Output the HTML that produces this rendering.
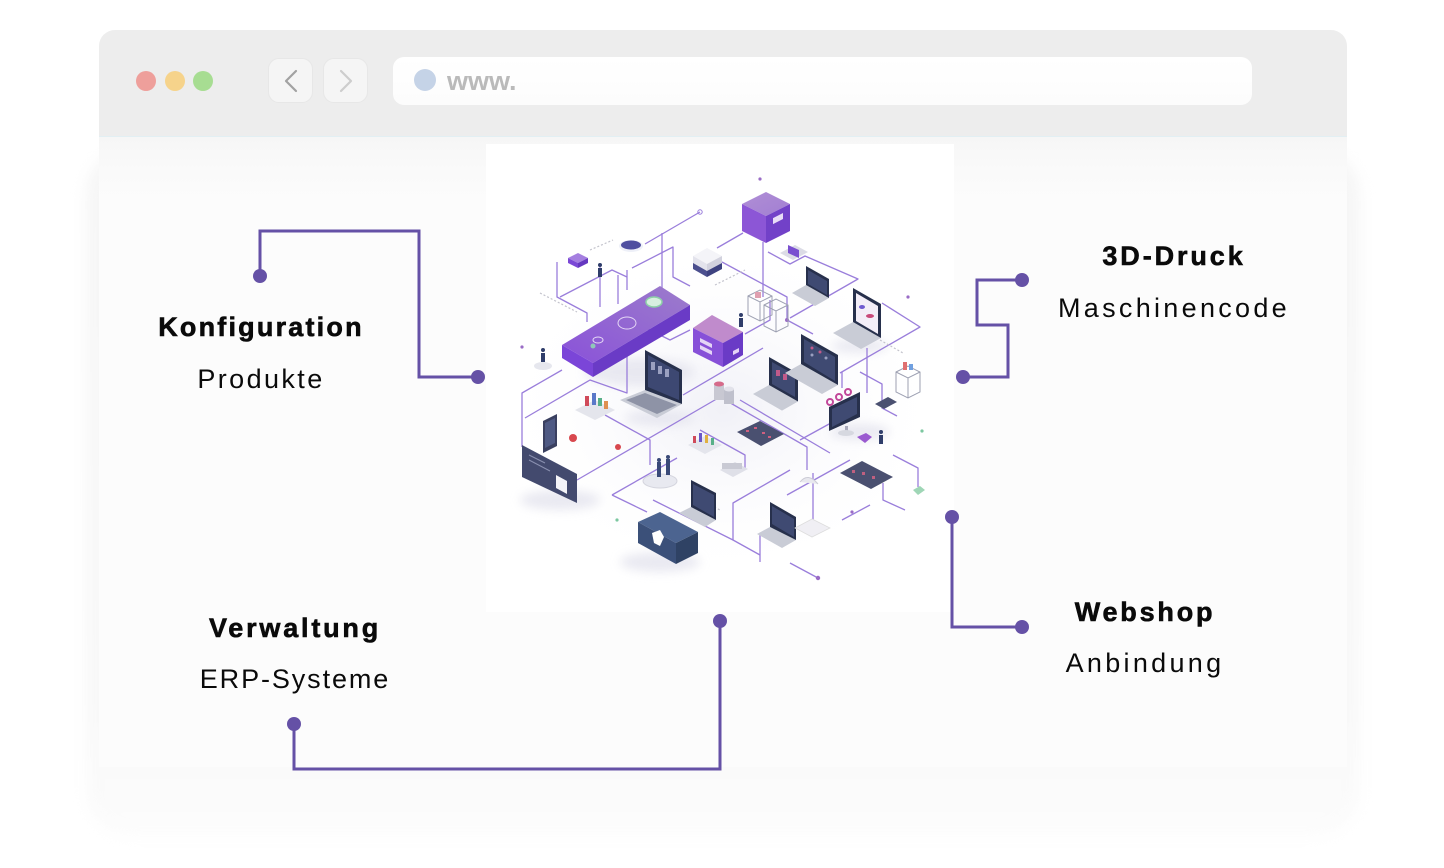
<!DOCTYPE html>
<html>
<head>
<meta charset="utf-8">
<style>
  html,body{margin:0;padding:0;background:#fff;}
  body{width:1444px;height:868px;position:relative;overflow:hidden;font-family:"Liberation Sans",sans-serif;}
  .abs{position:absolute;}
  #shadow{left:86px;top:150px;width:1274px;height:686px;border-radius:44px;background:linear-gradient(180deg,#f6f6f6 0%,#f8f8f8 80%,#fcfcfc 100%);filter:blur(7px);}
  #titlebar{left:99px;top:30px;width:1248px;height:106px;background:#ededed;border-radius:16px 16px 0 0;border-bottom:1px solid #e2eff3;}
  #content{left:99px;top:137px;width:1248px;height:630px;background:linear-gradient(180deg,#f6f6f6 0px,#fafafa 35px,#fcfcfc 65px,#fcfcfc 100%);}
  #illbg{left:486px;top:144px;width:468px;height:468px;background:#ffffff;}
  .tl{width:20px;height:20px;border-radius:50%;top:71px;}
  .nav{top:58px;width:45px;height:45px;background:#f5f5f5;border:1px solid #e7e7e7;border-radius:11px;box-sizing:border-box;}
  #addr{left:393px;top:57px;width:859px;height:48px;border-radius:11px;background:linear-gradient(180deg,#ffffff,#fcfcfc);}
  #www{left:447px;top:64px;font-weight:bold;font-size:27px;color:#bababa;line-height:34px;}
</style>
</head>
<body>
<div id="shadow" class="abs"></div>
<div id="titlebar" class="abs"></div>
<div id="content" class="abs"></div>
<div id="illbg" class="abs"></div>

<div class="abs tl" style="left:136px;background:#ee9f9b;"></div>
<div class="abs tl" style="left:165px;background:#f6d38b;"></div>
<div class="abs tl" style="left:193px;background:#a7dd92;"></div>

<div class="abs nav" style="left:268px;"></div>
<div class="abs nav" style="left:323px;"></div>
<svg class="abs" style="left:0;top:0" width="1444" height="868" viewBox="0 0 1444 868">
  <polyline points="296,71 286,81 296,91" fill="none" stroke="#a2a2a2" stroke-width="2.2" stroke-linecap="round" stroke-linejoin="round"/>
  <polyline points="341,71 351,81 341,91" fill="none" stroke="#cdcdcd" stroke-width="2.2" stroke-linecap="round" stroke-linejoin="round"/>
</svg>

<div id="addr" class="abs"></div>
<div class="abs" style="left:414px;top:69px;width:22px;height:22px;border-radius:50%;background:#c5d3e7;"></div>
<div id="www" class="abs">www.</div>

<!-- Illustration -->
<svg class="abs" style="left:0;top:0" width="1444" height="868" viewBox="0 0 1444 868">
  <defs>
    <radialGradient id="glow" cx="50%" cy="50%" r="50%">
      <stop offset="0" stop-color="#efeff6" stop-opacity="0.9"/>
      <stop offset="1" stop-color="#ffffff" stop-opacity="0"/>
    </radialGradient>
    <linearGradient id="slabTop" x1="0" y1="1" x2="1" y2="0">
      <stop offset="0" stop-color="#8a52d9"/>
      <stop offset="1" stop-color="#9c7ccb"/>
    </linearGradient>
    <linearGradient id="cubeTop" x1="0" y1="0" x2="1" y2="1">
      <stop offset="0" stop-color="#b08ed6"/>
      <stop offset="1" stop-color="#a27fd2"/>
    </linearGradient>
    <filter id="bl" x="-50%" y="-50%" width="200%" height="200%"><feGaussianBlur stdDeviation="5"/></filter>
  </defs>
  <ellipse cx="722" cy="410" rx="225" ry="170" fill="url(#glow)"/>

  <g fill="#e4e4ee" filter="url(#bl)" opacity="0.8">
    <ellipse cx="640" cy="372" rx="55" ry="14"/>
    <ellipse cx="660" cy="562" rx="40" ry="10"/>
    <ellipse cx="560" cy="500" rx="40" ry="10"/>
    <ellipse cx="660" cy="418" rx="35" ry="8"/>
    <ellipse cx="860" cy="432" rx="30" ry="8"/>
    <ellipse cx="860" cy="346" rx="28" ry="7"/>
  </g>

  <g fill="none" stroke="#9a7edb" stroke-width="1.3" stroke-linejoin="round">
    <path d="M700,212 L645,244"/>
    <path d="M632,268 L673,247 L673,277 L690,286"/>
    <path d="M662,233 L662,290"/>
    <path d="M627,270 L627,290"/>
    <path d="M557,262 L557,297 L587,313 L587,322"/>
    <path d="M560,297 L612,270 L627,277"/>
    <path d="M600,266 L600,307"/>
    <path d="M618,275 L618,304"/>
    <path d="M717,248 L743,233"/>
    <path d="M763,242 L763,297"/>
    <path d="M722,262 L787,297 L787,320 L813,334"/>
    <path d="M768,252 L790,264 L805,256 L858,279 L790,318"/>
    <path d="M882,303 L920,327 L840,373"/>
    <path d="M867,348 L867,393"/>
    <path d="M860,372 L882,384 L882,408 L897,416"/>
    <path d="M522,447 L522,393 L562,370"/>
    <path d="M525,418 L590,380 L627,393 L627,347"/>
    <path d="M577,480 L720,397 L807,447 L807,470"/>
    <path d="M605,415 L650,440 L650,465"/>
    <path d="M612,495 L677,458"/>
    <path d="M612,495 L647,512"/>
    <path d="M653,500 L733,540 L733,503 L790,470"/>
    <path d="M787,495 L850,460"/>
    <path d="M790,563 L818,578"/>
    <path d="M760,533 L760,562"/>
    <path d="M813,473 L813,520"/>
    <path d="M883,483 L883,500 L905,510"/>
    <path d="M893,455 L918,468 L918,487"/>
    <path d="M683,395 L763,348"/>
    <path d="M740,400 L830,453"/>
    <path d="M700,430 L745,455 L745,470"/>
    <path d="M800,440 L840,418"/>
    <path d="M842,372 L842,388"/>
    <path d="M690,330 L670,340 L640,325"/>
    <path d="M770,300 L770,320 L745,334"/>
    <path d="M842,520 L870,505"/>
    <path d="M733,540 L760,555"/>
  </g>
  <g fill="none" stroke="#c3c3cc" stroke-width="1.2" stroke-dasharray="2,2">
    <path d="M540,293 L577,312"/>
    <path d="M590,250 L613,240"/>
    <path d="M880,340 L903,353"/>
    <path d="M715,285 L745,270"/>
    <path d="M700,500 L720,510"/>
  </g>

  <g fill="#9a6cc6">
    <circle cx="760" cy="179" r="1.6"/><circle cx="908" cy="297" r="1.6"/><circle cx="522" cy="347" r="1.6"/>
    <circle cx="852" cy="512" r="1.6"/><circle cx="700" cy="212" r="2.2" fill="none" stroke="#9a7edb"/>
    <circle cx="818" cy="578" r="2.2"/><circle cx="787" cy="320" r="2"/>
  </g>
  <circle cx="617" cy="520" r="1.6" fill="#7cc7a0"/>
  <circle cx="922" cy="431" r="1.6" fill="#7cc7a0"/>

  <polygon points="742,204 766,192 790,204 766,216" fill="url(#cubeTop)"/>
  <polygon points="742,204 766,216 766,243 742,231" fill="#8c56d6"/>
  <polygon points="766,216 790,204 790,231 766,243" fill="#7241c8"/>
  <rect x="773" y="218" width="10" height="6" fill="#e8ddf6" transform="skewY(-27) translate(0,394)"/>

  <polygon points="568,258 578,253 588,258 578,263" fill="#a57fe0"/>
  <polygon points="568,258 578,263 578,268 568,263" fill="#7b48d6"/>
  <polygon points="578,263 588,258 588,263 578,268" fill="#6538c0"/>
  <ellipse cx="631" cy="246" rx="12" ry="6" fill="#eef0f8"/>
  <ellipse cx="631" cy="245" rx="10" ry="4.5" fill="#4f4fa0"/>

  <polygon points="693,256 707,248 722,256 707,264" fill="#f4f4f8"/>
  <polygon points="693,256 707,264 707,277 693,269" fill="#e3e3ec"/>
  <polygon points="707,264 722,256 722,269 707,277" fill="#d2d2de"/>
  <polygon points="693,263 707,271 707,277 693,269" fill="#4b4f8e"/>
  <polygon points="707,271 722,263 722,269 707,277" fill="#3e4280"/>

  <polygon points="780,253 795,245 808,252 793,260" fill="#dcdce6"/>
  <polygon points="788,245 799,250 799,258 788,253" fill="#7a4fd0"/>

  <g fill="none" stroke="#9da0b2" stroke-width="1">
    <polygon points="748,296 760,290 772,296 772,315 760,321 748,315"/>
    <path d="M748,296 L760,302 L772,296 M760,302 L760,321"/>
    <polygon points="764,305 776,299 788,305 788,326 776,332 764,326"/>
    <path d="M764,305 L776,311 L788,305 M776,311 L776,332"/>
    <polygon points="896,372 908,366 920,372 920,392 908,398 896,392"/>
    <path d="M896,372 L908,378 L920,372 M908,378 L908,398"/>
  </g>
  <rect x="755" y="292" width="6" height="6" fill="#e0a0b0"/>
  <rect x="903" y="362" width="4" height="8" fill="#e07070"/>
  <rect x="909" y="364" width="4" height="6" fill="#70a0e0"/>

  <polygon points="562,345 660,286 690,305 593,363" fill="url(#slabTop)"/>
  <polygon points="562,345 593,363 593,377 562,358" fill="#7b45d8"/>
  <polygon points="593,363 690,305 690,320 593,377" fill="#6a3bc6"/>
  <ellipse cx="654" cy="302" rx="8" ry="5" fill="#d8f0e0" stroke="#8ed0a8" stroke-width="1.5"/>
  <ellipse cx="627" cy="323" rx="9" ry="6" fill="none" stroke="#e5d8f5" stroke-width="1"/>
  <ellipse cx="598" cy="340" rx="5" ry="3" fill="none" stroke="#e5d8f5" stroke-width="1"/>
  <circle cx="593" cy="346" r="2.5" fill="#8fc8b8"/>

  <polygon points="693,328 712,315 743,332 723,343" fill="#c08bcc"/>
  <polygon points="693,328 723,343 723,367 693,352" fill="#8750d8"/>
  <polygon points="723,343 743,332 743,355 723,367" fill="#6a3bc6"/>
  <polygon points="700,338 712,344 712,348 700,342" fill="#e4d4f6"/>
  <polygon points="700,345 712,351 712,355 700,349" fill="#e4d4f6"/>
  <polygon points="733,351 739,348 739,352 733,355" fill="#e4d4f6"/>

  <rect x="714" y="384" width="10" height="16" fill="#c8c8d2"/>
  <ellipse cx="719" cy="384" rx="5" ry="2.5" fill="#d66a8a"/>
  <rect x="724" y="389" width="10" height="15" fill="#bfc0cc"/>
  <ellipse cx="729" cy="389" rx="5" ry="2.5" fill="#e2e2ea"/>
  <g fill="none" stroke="#c2489a" stroke-width="2">
    <circle cx="830" cy="402" r="3"/><circle cx="839" cy="397" r="3"/><circle cx="848" cy="392" r="3"/>
  </g>

  <g>
    <polygon points="645,390 682,404 657,418 620,400" fill="#c9ccd6"/>
    <polygon points="645,393 677,405 657,414 626,400" fill="#8e93a6"/>
    <polygon points="645,350 682,370 682,404 645,390" fill="#27304c"/>
    <polygon points="648,355 679,372 679,400 648,387" fill="#3d4872"/>
    <rect x="651" y="362" width="4" height="8" fill="#9aa0c0"/><rect x="658" y="366" width="4" height="8" fill="#9aa0c0"/><rect x="665" y="369" width="4" height="8" fill="#9aa0c0"/>
    <polygon points="769,385 798,401.5 782,410.6 753,394" fill="#c9ccd6"/>
    <polygon points="769,357 798,373.5 798,401.5 769,385" fill="#27304c"/>
    <polygon points="772,362 795,375 795,397 772,384" fill="#3f4a72"/>
    <rect x="776" y="370" width="4" height="6" fill="#c05a8a"/><rect x="783" y="374" width="4" height="6" fill="#c05a8a"/>
    <polygon points="801,364 838,385 822,394 785,373" fill="#c9ccd6"/>
    <polygon points="801,334 838,355 838,385 801,364" fill="#27304c"/>
    <polygon points="804,339 835,357 835,381 804,362" fill="#3f4a72"/>
    <circle cx="812" cy="348" r="1.5" fill="#c05a8a"/><circle cx="820" cy="352" r="1.5" fill="#c05a8a"/><circle cx="812" cy="355" r="1.5" fill="#9aa0c0"/><circle cx="826" cy="358" r="1.5" fill="#9aa0c0"/>
    <polygon points="853,322 881,338 861,349 833,333" fill="#c9ccd6"/>
    <polygon points="853,288 881,304 881,338 853,322" fill="#27304c"/>
    <polygon points="856,293 878,306 878,334 856,321" fill="#f3eef8"/>
    <ellipse cx="862" cy="307" rx="3" ry="2" fill="#6f5ad0"/><ellipse cx="870" cy="316" rx="4" ry="2" fill="#c84a7a"/>
    <polygon points="806,285 829,298 815,306 792,293" fill="#c9ccd6"/>
    <polygon points="806,266 829,279 829,298 806,285" fill="#27304c"/>
    <polygon points="808,270 827,281 827,295 808,284" fill="#3f4a72"/>
    <polygon points="691,507 716,520 705,527 679,513" fill="#c9ccd6"/>
    <polygon points="691,480 716,493 716,520 691,507" fill="#27304c"/>
    <polygon points="693,484 714,495 714,517 693,505" fill="#3f4a72"/>
    <polygon points="770,527 796,540 782,548 757,534" fill="#c9ccd6"/>
    <polygon points="770,502 796,517 796,540 770,527" fill="#27304c"/>
    <polygon points="772,506 794,519 794,537 772,524" fill="#3f4a72"/>
    <polygon points="829,407 860,392 860,417 829,431" fill="#27304c"/>
    <polygon points="832,409 857,397 857,414 832,427" fill="#3f4a72"/>
    <rect x="845" y="426" width="3" height="6" fill="#aab"/>
    <ellipse cx="846" cy="433" rx="8" ry="3" fill="#d6d8e0"/>
  </g>

  <polygon points="522,445 577,474 577,503 522,477" fill="#434a6e"/>
  <polygon points="556,475 567,481 567,494 556,488" fill="#f4f4f8"/>
  <path d="M529,455 L545,463 M529,460 L550,471" stroke="#8a90b0" stroke-width="1"/>
  <polygon points="543,421 557,414 557,446 543,453" fill="#3a4060"/>
  <polygon points="545,423 555,418 555,443 545,448" fill="#4f5a84"/>

  <polygon points="638,522 660,512 698,532 676,543" fill="#4c6490"/>
  <polygon points="638,522 676,543 676,564 638,543" fill="#3b5079"/>
  <polygon points="676,543 698,532 698,553 676,564" fill="#2f4264"/>
  <path d="M652,533 L660,530 L664,537 L660,546 L654,543 Z" fill="#ffffff"/>

  <polygon points="737,432 760,421 784,434 761,446" fill="#4a5070"/>
  <g fill="#d06080"><rect x="746" y="430" width="3" height="2"/><rect x="754" y="427" width="3" height="2"/><rect x="762" y="432" width="3" height="2"/><rect x="768" y="436" width="3" height="2"/></g>
  <polygon points="840,473 862,461 893,477 871,489" fill="#4a5070"/>
  <g fill="#c06080"><rect x="852" y="470" width="3" height="3"/><rect x="862" y="472" width="3" height="3"/><rect x="872" y="476" width="3" height="3"/></g>
  <polygon points="875,404 888,397 897,402 884,409" fill="#4a5070"/>

  <polygon points="575,410 595,400 615,410 595,420" fill="#e4e5ec"/>
  <g><rect x="585" y="396" width="4" height="10" fill="#d04a5a"/><rect x="592" y="393" width="4" height="12" fill="#5a78c8"/><rect x="598" y="398" width="4" height="8" fill="#58b088"/><rect x="604" y="401" width="4" height="8" fill="#e09050"/></g>
  <polygon points="688,445 705,436 722,445 705,454" fill="#e4e5ec"/>
  <g><rect x="693" y="436" width="3" height="7" fill="#d04a5a"/><rect x="699" y="433" width="3" height="9" fill="#6a58c8"/><rect x="705" y="435" width="3" height="8" fill="#e0b040"/><rect x="711" y="438" width="3" height="7" fill="#58b088"/></g>
  <polygon points="720,470 735,462 748,469 733,477" fill="#dfe0e8"/>
  <rect x="722" y="463" width="20" height="6" fill="#c9cad4"/>
  <ellipse cx="660" cy="481" rx="17" ry="7" fill="#e8e9f0" stroke="#d4d5de"/>
  <g fill="#3a4a78"><rect x="657" y="462" width="4" height="15"/><rect x="666" y="459" width="4" height="16"/></g>
  <circle cx="659" cy="460" r="2" fill="#3a4a78"/><circle cx="668" cy="457" r="2" fill="#3a4a78"/>
  <g fill="#2f3d6a">
    <rect x="598" y="268" width="4" height="9"/><circle cx="600" cy="265" r="2"/>
    <rect x="541" y="353" width="4" height="9"/><circle cx="543" cy="350" r="2"/>
    <rect x="739" y="318" width="4" height="9"/><circle cx="741" cy="315" r="2"/>
    <rect x="879" y="435" width="4" height="9"/><circle cx="881" cy="432" r="2"/>
  </g>
  <ellipse cx="543" cy="366" rx="9" ry="4" fill="#e6e7ee"/>
  <polygon points="857,437 866,433 872,437 865,443" fill="#9a5ad0"/>
  <circle cx="573" cy="438" r="4" fill="#d8484e"/>
  <circle cx="618" cy="447" r="3" fill="#d8484e"/>
  <polygon points="913,490 920,486 925,490 918,495" fill="#9fd6b6"/>
  <path d="M800,482 Q808,472 818,484" fill="#e8e8ee" stroke="#ccccd6"/>
  <polygon points="795,528 812,519 830,528 812,537" fill="#f0eff4" stroke="#ddd" stroke-width="0.8"/>
</svg>

<svg class="abs" style="left:0;top:0" width="1444" height="868" viewBox="0 0 1444 868">
  <g fill="none" stroke="#6551a6" stroke-width="3" stroke-linejoin="miter">
    <path d="M260,276 V231 H419 V377 H478"/>
    <path d="M1022,280 H977 V325 H1008 V377 H963"/>
    <path d="M952,517 V627 H1022"/>
    <path d="M720,621 V769 H294 V724"/>
  </g>
  <g fill="#6551a6">
    <circle cx="260" cy="276" r="7"/><circle cx="478" cy="377" r="7"/>
    <circle cx="1022" cy="280" r="7"/><circle cx="963" cy="377" r="7"/>
    <circle cx="952" cy="517" r="7"/><circle cx="1022" cy="627" r="7"/>
    <circle cx="720" cy="621" r="7"/><circle cx="294" cy="724" r="7"/>
  </g>
  <g font-family="Liberation Sans, sans-serif" font-size="27" fill="#0a0a0a" text-anchor="middle">
    <g font-weight="bold" stroke="#0a0a0a" stroke-width="0.6">
      <text x="261" y="336" letter-spacing="2.2">Konfiguration</text>
      <text x="1174" y="265" letter-spacing="2.9">3D-Druck</text>
      <text x="1145" y="621" letter-spacing="2.8">Webshop</text>
      <text x="295" y="637" letter-spacing="2.8">Verwaltung</text>
    </g>
    <text x="261" y="388" letter-spacing="2.4">Produkte</text>
    <text x="1174" y="317" letter-spacing="3.3">Maschinencode</text>
    <text x="1145" y="672" letter-spacing="3.3">Anbindung</text>
    <text x="295" y="688" letter-spacing="1.9">ERP-Systeme</text>
  </g>
</svg>
</body>
</html>
